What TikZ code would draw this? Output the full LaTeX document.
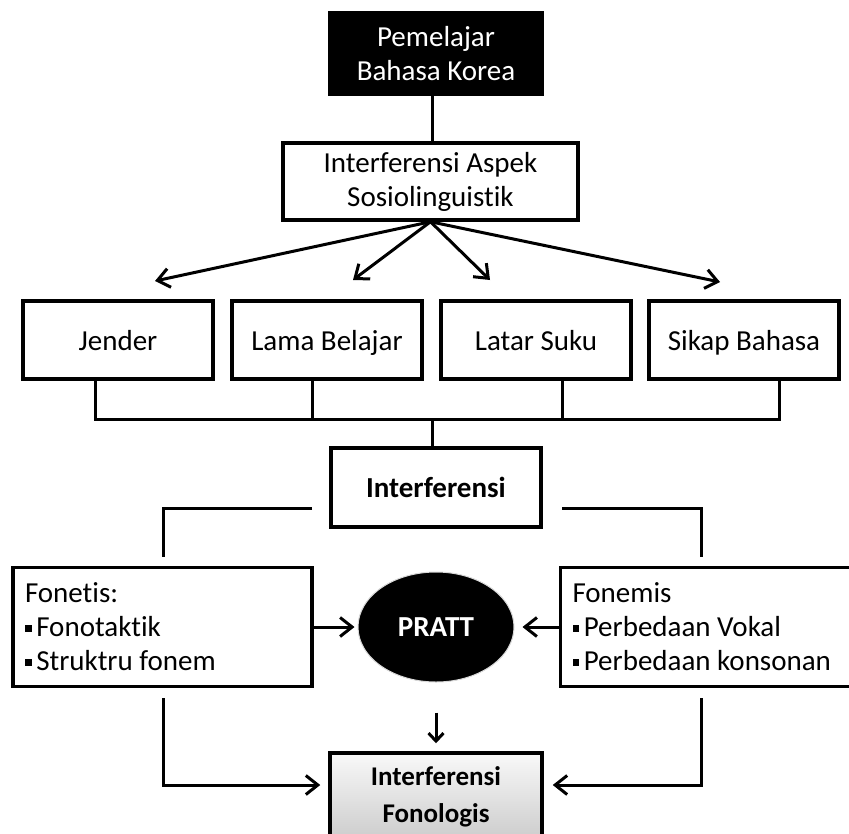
\documentclass[tikz,border=0pt]{standalone}
\usepackage{fontspec}
\setmainfont{Carlito}[Ligatures=NoCommon]
\usetikzlibrary{arrows.meta}
\usetikzlibrary{shapes.geometric}

\newcommand{\sqbullet}{\rule[0.17em]{0.24em}{0.24em}\hspace{0.15em}}

\tikzset{
  box/.style={draw, line width=3.5pt, inner sep=0pt, align=center, font=\fontsize{29}{34}\selectfont},
  oneline/.style={text height=24pt, text depth=4pt},
  listbox/.style={box, align=flush left, text width=275pt, inner xsep=12pt, minimum height=119pt},
  link/.style={line width=3pt},
  arrow/.style={link, -{Straight Barb[length=12pt,width=19pt]}},
}

\begin{document}
\begin{tikzpicture}[x=1pt, y=-1pt]
        \useasboundingbox (0,0) rectangle (849,833);
        \clip (0,0) rectangle (849,833);
        \fill [white] (0,0) rectangle (849,833);
        % boxes
        \node [box, fill=black, text=white, minimum width=212pt, minimum height=81pt] (pemelajar) at (436,53.5) {Pemelajar\\Bahasa Korea};
        \node [box, minimum width=295pt, minimum height=77pt] (aspek) at (430.5,181.5) {Interferensi Aspek\\Sosiolinguistik};
        \foreach \n/\x/\t in {jender/118/Jender, lama/327/Lama Belajar, latar/536/Latar Suku, sikap/744/Sikap Bahasa}
          \node [box, oneline, minimum width=190pt, minimum height=78pt] (\n) at (\x,340) {\t};
        \node [box, oneline, font=\fontsize{29}{34}\selectfont\bfseries, minimum width=210pt, minimum height=79pt] (interf) at (436,487.5) {Interferensi};
        \node [listbox] (fonetis) at (162.5,627) {Fonetis:\\\sqbullet Fonotaktik\\\sqbullet Struktru fonem};
        \node [listbox] (fonemis) at (710,627) {Fonemis\\\sqbullet Perbedaan Vokal\\\sqbullet Perbedaan konsonan};
        \node [ellipse, fill=black, draw=gray!30, line width=1pt, minimum width=156pt, minimum height=110pt, inner sep=0pt, text=white, font=\fontsize{29}{34}\selectfont\bfseries] (pratt) at (436,627) {PRATT};
        \node [box, top color=gray!5, bottom color=gray!40, font=\fontsize{27}{37}\selectfont\bfseries, minimum width=212pt, minimum height=87pt] (fonologis) at (436,796.5) {Interferensi\\Fonologis};
        % connectors
        \draw [link] (pemelajar.south -| 432,0) -- (aspek.north -| 432,0);
        \coordinate (tojender) at (155,281);
        \coordinate (tolama) at (353,280);
        \coordinate (tolatar) at (490,280);
        \coordinate (tosikap) at (720,282);
        \foreach \c in {tojender, tolama, tolatar, tosikap}
          \draw [arrow] (aspek.south) -- (\c);
        \draw [link] (jender.south -| 95,0) -- (95,419) -- (779,419) -- (sikap.south -| 779,0);
        \draw [link] (lama.south -| 312,0) -- (312,419);
        \draw [link] (latar.south -| 562,0) -- (562,419);
        \draw [link] (432,419) -- (interf.north -| 432,0);
        \coordinate (splitL) at (312,508);
        \coordinate (splitR) at (562,508);
        \draw [link] (splitL) -| (163,557);
        \draw [link] (splitR) -| (701,557);
        \draw [arrow, shorten >=3pt] (fonetis) -- (pratt);
        \draw [arrow, shorten >=8pt] (fonemis) -- (pratt);
        \draw [link, -{Straight Barb[length=8pt,width=15pt]}, shorten <=30pt, shorten >=8pt] (pratt) -- (fonologis);
        \coordinate (dropL) at (163,698);
        \coordinate (dropR) at (701,698);
        \draw [arrow, shorten >=8pt] (dropL) |- ([yshift=11.5pt]fonologis.west);
        \draw [arrow, shorten >=9pt] (dropR) |- ([yshift=11.5pt]fonologis.east);
\end{tikzpicture}
\end{document}
